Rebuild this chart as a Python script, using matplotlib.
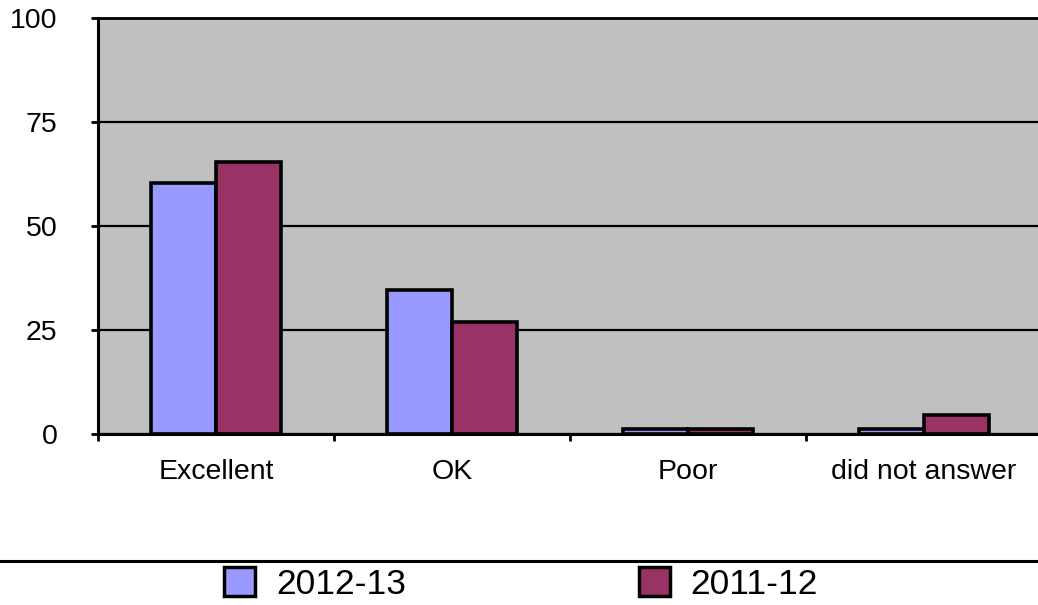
import matplotlib
matplotlib.use("Agg")
import matplotlib.pyplot as plt
from matplotlib.patches import Patch
from matplotlib.lines import Line2D
import numpy as np

plt.rcParams['font.family'] = ['Liberation Sans', 'DejaVu Sans']

categories = ["Excellent", "OK", "Poor", "did not answer"]
series_names = ["2012-13", "2011-12"]
values_2012_13 = [60.3, 34.7, 1.2, 1.2]
values_2011_12 = [65.4, 27.0, 1.2, 4.5]
colors = ["#9999FF", "#993366"]
yticks = [0, 25, 50, 75, 100]

W, H = 1038, 605
fig = plt.figure(figsize=(W / 100, H / 100), dpi=100)
ax = fig.add_axes([98 / W, 1 - 434.2 / H, 944 / W, (434.2 - 17.5) / H])
ax.set_facecolor("#C0C0C0")

x = np.arange(len(categories))
bw = 0.2775
ax.bar(x - bw / 2, values_2012_13, bw, color=colors[0], edgecolor="black",
       linewidth=2.6, zorder=3, label=series_names[0])
ax.bar(x + bw / 2, values_2011_12, bw, color=colors[1], edgecolor="black",
       linewidth=2.6, zorder=3, label=series_names[1])

ax.set_xlim(-0.5, len(categories) - 0.5)
ax.set_ylim(0, 100)
ax.set_yticks(yticks)
ax.set_yticklabels([str(v) for v in yticks], fontsize=20.5)
ax.yaxis.grid(True, color="black", linewidth=1.6, zorder=1)
ax.set_axisbelow(True)

ax.set_xticks(x)
ax.set_xticklabels(categories, fontsize=20.5)
ax.set_xticks(np.arange(-0.5, len(categories), 1.0), minor=True)
ax.tick_params(axis="x", which="major", length=0, pad=18)
ax.tick_params(axis="x", which="minor", length=5, width=2, direction="out")
ax.tick_params(axis="y", which="major", length=5, width=2, direction="out", pad=24)

for s in ["left", "bottom"]:
    ax.spines[s].set_linewidth(2.2)
ax.spines["top"].set_linewidth(2.0)
ax.spines["right"].set_visible(False)

# legend separator line
fig.add_artist(Line2D([0, 1], [1 - 561 / H, 1 - 561 / H], color="black",
                      linewidth=2.2, transform=fig.transFigure))

handles = [Patch(facecolor=colors[i], edgecolor="black", linewidth=2.5,
                 label=series_names[i]) for i in range(2)]
fig.legend(handles=handles, loc="center", bbox_to_anchor=(521 / W, 1 - 584 / H),
           ncol=2, frameon=False, fontsize=25.5, handlelength=0.875,
           handleheight=0.9, handletextpad=0.59, columnspacing=6.58,
           borderpad=0, borderaxespad=0)

fig.savefig("out.png", dpi=100)
